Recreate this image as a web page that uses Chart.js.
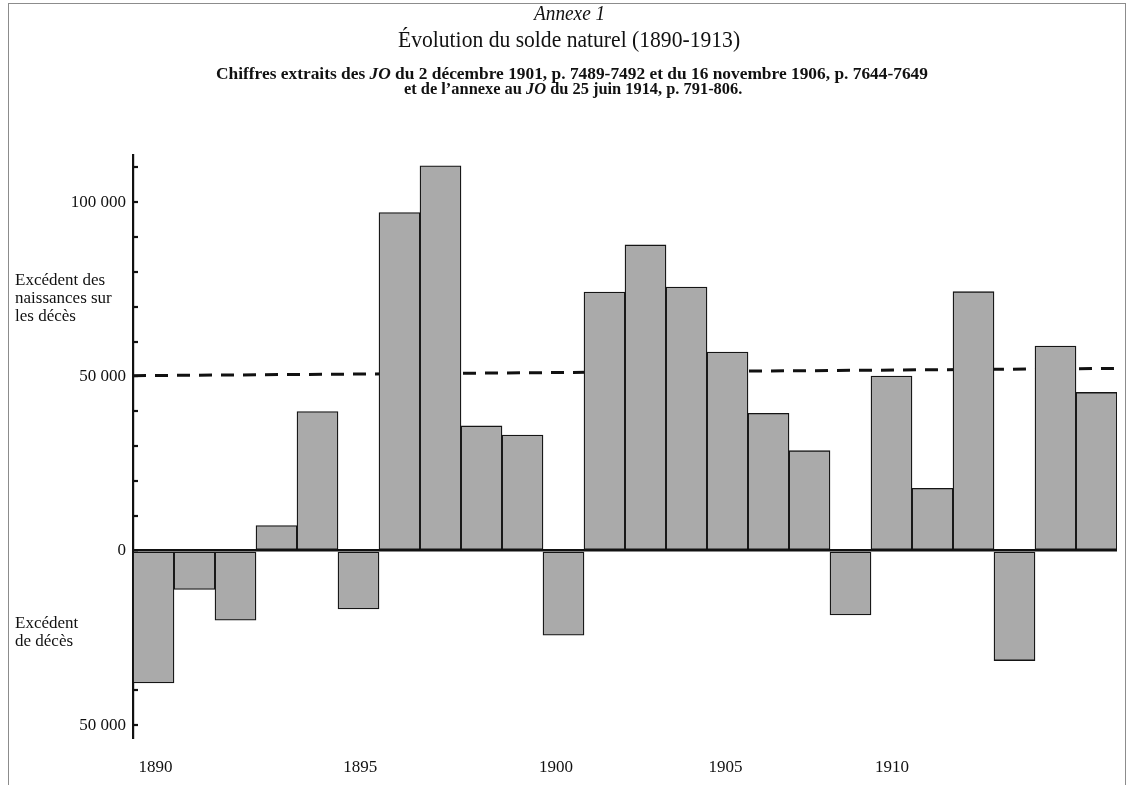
<!DOCTYPE html>
<html lang="fr">
<head>
<meta charset="utf-8">
<script src="https://cdn.jsdelivr.net/npm/chart.js@4.4.1/dist/chart.umd.min.js"></script>
<style>
html,body{margin:0;padding:0;background:#fff;}
body{width:1134px;height:785px;position:relative;overflow:hidden;font-family:'Liberation Serif','Times New Roman',serif;color:#111;}
#frame{position:absolute;left:8px;top:3px;width:1118px;height:820px;border:1.5px solid #8c8c8c;border-bottom:none;box-sizing:border-box;}
#c{position:absolute;left:0;top:0;}
.t{position:absolute;white-space:nowrap;transform-origin:0 0;line-height:1;}
.note{position:absolute;font-size:17px;line-height:18px;white-space:nowrap;color:#111;}
</style>
</head>
<body>
<div id="frame"></div>
<canvas id="c" width="1134" height="785"></canvas>
<div class="t" data-cx="569" data-cy="13" data-w="71" style="font-size:22px;font-style:italic;">Annexe 1</div>
<div class="t" data-cx="569" data-cy="39" data-w="342" style="font-size:23px;">Évolution du solde naturel (1890-1913)</div>
<div class="t" data-cx="572" data-cy="74" data-w="712" style="font-size:16px;font-weight:bold;">Chiffres extraits des <i>JO</i> du 2 décembre 1901, p. 7489-7492 et du 16 novembre 1906, p. 7644-7649</div>
<div class="t" data-cx="573" data-cy="89" data-w="338" style="font-size:16px;font-weight:bold;">et de l’annexe au <i>JO</i> du 25 juin 1914, p. 791-806.</div>
<div class="note" style="left:15px;top:271px;">Excédent des<br>naissances sur<br>les décès</div>
<div class="note" style="left:15px;top:614px;">Excédent<br>de décès</div>
<script>
// ---- data ----
const years = ['1890','1891','1892','1893','1894','1895','1896','1897','1898','1899','1900','1901',
               '1902','1903','1904','1905','1906','1907','1908','1909','1910','1911','1912','1913'];
const soldeNaturel = [-37900, -11100, -19900, 7200, 39900, -16700, 97000, 110400, 35800, 33200, -24200, 74200,
                      87700, 75600, 57000, 39400, 28700, -18400, 50100, 17900, 74300, -31500, 58700, 45400];
const trendYears = [1889.5, 1913.5];
const trendValues = [50200, 52300];
const yearTickLabels = ['1890','1895','1900','1905','1910'];
const yearTickAt = [1890.05, 1895.04, 1899.82, 1903.95, 1908.01];
const yTickValues = [-50000, -40000, -30000, -20000, -10000, 0, 10000, 20000, 30000, 40000,
                     50000, 60000, 70000, 80000, 90000, 100000, 110000];
const yLabelledValues = [-50000, 0, 50000, 100000];

// ---- titles: fit to target widths ----
document.querySelectorAll('.t').forEach(el => {
  const w = el.offsetWidth, h = el.offsetHeight;
  const tw = +el.dataset.w, cx = +el.dataset.cx, cy = +el.dataset.cy;
  const k = tw / w;
  el.style.left = (cx - tw / 2) + 'px';
  el.style.top = (cy - h / 2) + 'px';
  el.style.transform = 'scaleX(' + k + ')';
});

const fmt = v => String(Math.abs(v)).replace(/\B(?=(\d{3})+(?!\d))/g, ' ');

new Chart(document.getElementById('c'), {
  type: 'bar',
  data: {
    labels: years,
    datasets: [
      {
        type: 'bar',
        data: soldeNaturel,
        backgroundColor: '#aaaaaa',
        borderColor: '#151515',
        borderWidth: 1.3,
        borderSkipped: false,
        grouped: false,
        categoryPercentage: 1,
        barPercentage: 1,
        xAxisID: 'x',
        order: 1
      },
      {
        type: 'line',
        data: trendYears.map((x, i) => ({x: x, y: trendValues[i]})),
        xAxisID: 'x2',
        borderColor: '#111',
        borderWidth: 3,
        borderDash: [13, 9],
        pointRadius: 0,
        fill: false,
        tension: 0,
        order: 2
      }
    ]
  },
  options: {
    responsive: false,
    devicePixelRatio: 1,
    animation: false,
    events: [],
    layout: {padding: {left: 0, top: 155, right: 17, bottom: 0}},
    plugins: {legend: {display: false}, tooltip: {enabled: false}, title: {display: false}},
    scales: {
      x: {
        type: 'category',
        display: false,
        offset: true
      },
      x2: {
        type: 'linear',
        position: 'bottom',
        offset: false,
        min: 1889.5,
        max: 1913.5,
        grid: {display: false, drawTicks: false},
        border: {display: false},
        afterBuildTicks: axis => { axis.ticks = yearTickAt.map(v => ({value: v})); },
        afterFit: axis => { axis.height = 46; },
        ticks: {
          autoSkip: false,
          maxRotation: 0,
          padding: 18,
          color: '#111',
          font: {family: "'Liberation Serif', serif", size: 17},
          callback: (v, i) => yearTickLabels[i]
        }
      },
      y: {
        type: 'linear',
        position: 'left',
        min: -54000,
        max: 113500,
        afterBuildTicks: axis => { axis.ticks = yTickValues.map(v => ({value: v})); },
        afterFit: axis => { axis.width = 133; },
        border: {display: true, color: '#111', width: 2.2},
        grid: {
          drawOnChartArea: true,
          drawTicks: true,
          tickLength: -5,
          tickWidth: 2.2,
          tickColor: '#111',
          color: ctx => (ctx.tick && ctx.tick.value === 0) ? '#111' : 'rgba(0,0,0,0)',
          lineWidth: ctx => (ctx.tick && ctx.tick.value === 0) ? 2.6 : 0
        },
        ticks: {
          autoSkip: false,
          padding: 12,
          color: '#111',
          font: {family: "'Liberation Serif', serif", size: 17},
          callback: v => yLabelledValues.includes(v) ? fmt(v) : ''
        }
      }
    }
  }
});
</script>
</body>
</html>
